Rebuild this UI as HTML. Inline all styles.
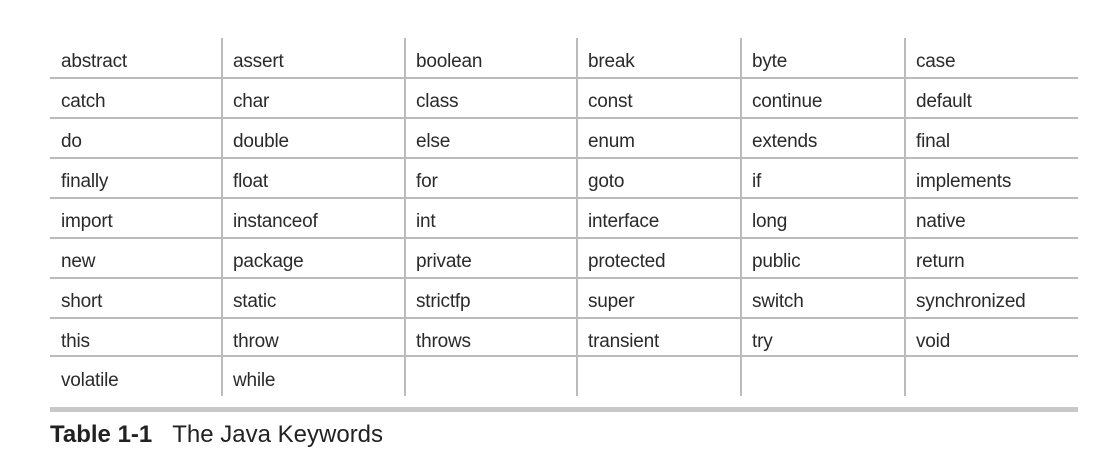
<!DOCTYPE html>
<html><head><style>
body{margin:0;width:1118px;height:464px;background:#fff;position:relative;font-family:"Liberation Sans",sans-serif;color:#222;}
.h{position:absolute;left:50px;width:1028px;height:2px;background:#bbb;}
.v{position:absolute;top:38px;height:358px;width:2px;background:#bbb;}
.t{position:absolute;font-size:19px;line-height:20px;white-space:nowrap;letter-spacing:-0.2px;color:#2a2a2a;}
</style></head><body>
<div class="h" style="top:77px"></div>
<div class="h" style="top:117px"></div>
<div class="h" style="top:157px"></div>
<div class="h" style="top:197px"></div>
<div class="h" style="top:237px"></div>
<div class="h" style="top:277px"></div>
<div class="h" style="top:317px"></div>
<div class="h" style="top:355px"></div>
<div class="v" style="left:221px"></div>
<div class="v" style="left:404px"></div>
<div class="v" style="left:576px"></div>
<div class="v" style="left:740px"></div>
<div class="v" style="left:904px"></div>
<div style="position:absolute;left:50px;top:407px;width:1028px;height:5px;background:#c8c8c8"></div>
<div id="cells"></div>
<div style="position:absolute;left:50px;top:421px;font-size:24px;white-space:nowrap"><b>Table 1-1</b>&nbsp;&nbsp;&nbsp;The Java Keywords</div>
<script>
var d=[["abstract","assert","boolean","break","byte","case"],["catch","char","class","const","continue","default"],["do","double","else","enum","extends","final"],["finally","float","for","goto","if","implements"],["import","instanceof","int","interface","long","native"],["new","package","private","protected","public","return"],["short","static","strictfp","super","switch","synchronized"],["this","throw","throws","transient","try","void"],["volatile","while","","","",""]];
var xs=[61,233,416,588,752,916],h="";
d.forEach(function(r,i){r.forEach(function(w,j){if(w)h+='<div class="t" style="left:'+xs[j]+'px;top:'+(52+i*40-(i==8?1:0))+'px">'+w+'</div>';});});
document.getElementById("cells").innerHTML=h;
</script>
</body></html>
